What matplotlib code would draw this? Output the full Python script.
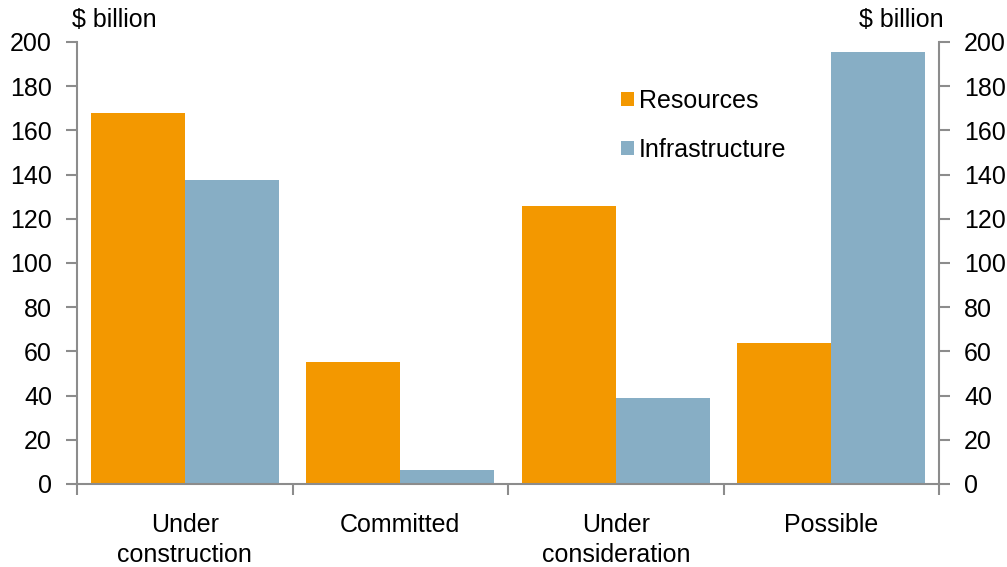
import numpy as np
import matplotlib.pyplot as plt

plt.rcParams['font.family'] = ['Liberation Sans', 'DejaVu Sans']

# project pipeline, $ billion
stages = ["Under\nconstruction", "Committed", "Under\nconsideration", "Possible"]
resources = [168, 55, 126, 64]
infrastructure = [137.5, 6.5, 39, 195.5]

orange = "#F39800"
blue = "#87AEC5"
grey = "#8C8C8C"
fs = 18

fig = plt.figure(figsize=(10.07, 5.67), dpi=100)
ax = fig.add_axes([0.0765, 0.1464, 0.856, 0.7796])

x = np.arange(len(stages))
w = 0.436
ax.bar(x - w / 2, resources, w, color=orange, label="Resources")
ax.bar(x + w / 2, infrastructure, w, color=blue, label="Infrastructure")

ax.set_xlim(-0.5, len(stages) - 0.5)
ax.set_ylim(0, 200)
ax.set_yticks(np.arange(0, 201, 20))

ax.spines["top"].set_visible(False)
for s in ["left", "right", "bottom"]:
    ax.spines[s].set_color(grey)
    ax.spines[s].set_linewidth(1.5)

ax.tick_params(axis="y", which="both", labelsize=fs, length=8, width=1.5,
               color=grey, labelright=True, right=True, pad=10)

# category labels centred, ticks on the boundaries
ax.set_xticks(x)
ax.set_xticklabels(stages, fontsize=fs, linespacing=1.33)
ax.tick_params(axis="x", which="major", length=0, pad=21)
ax.set_xticks(np.arange(-0.5, len(stages)), minor=True)
ax.tick_params(axis="x", which="minor", length=8, width=1.5, color=grey)

fig.text(0.0715, 0.964, "$ billion", fontsize=fs, ha="left", va="center")
fig.text(0.937, 0.964, "$ billion", fontsize=fs, ha="right", va="center")

ax.legend(loc="upper left", bbox_to_anchor=(0.62, 0.917), frameon=False,
          fontsize=fs, handlelength=0.5, handleheight=0.5,
          handletextpad=0.2, labelspacing=1.0, borderaxespad=0)

fig.savefig("out.png", dpi=100)
